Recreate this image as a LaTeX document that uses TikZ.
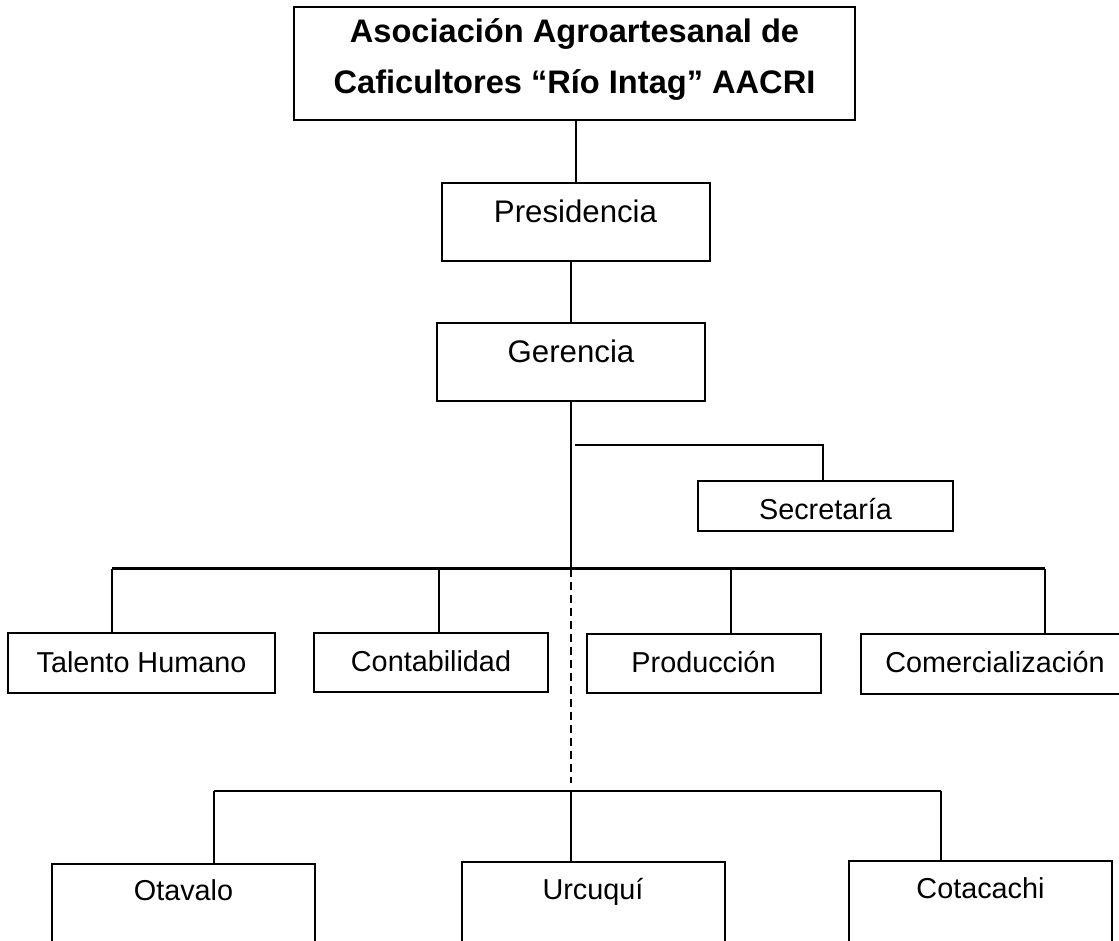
\documentclass[tikz,border=0pt]{standalone}
\usepackage{fontspec}
\setmainfont{Liberation Sans}
\newcommand{\widtharea}{117pt}
\newcommand{\widthsite}{131.5pt}
\tikzset{
    common/.style={draw, rectangle, line width=1pt, inner sep=0pt},
    head/.style={common, font=\fontsize{16.3}{25.8}\selectfont\bfseries, align=center, minimum width=280.5pt, minimum height=56.5pt},
    office/.style={common, font=\fontsize{15.6}{18}\selectfont, text height=11.2pt, text depth=10.2pt, minimum width=134pt, minimum height=39pt},
    area/.style={common, font=\fontsize{14.4}{17}\selectfont, text height=10.3pt, text depth=1.2pt, minimum width=\widtharea, minimum height=29.8pt},
    site/.style={common, anchor=north, font=\fontsize{14.4}{17}\selectfont, text height=18.5pt, text depth=30pt, minimum width=\widthsite},
    link/.style={line width=1pt},
    bus/.style={line width=1.3pt},
    dotted link/.style={link, dash pattern=on 4pt off 2.5pt}
}
\begin{document}
\begin{tikzpicture}[x=0.5pt, y=-0.5pt]
    \useasboundingbox (0,0) rectangle (1119,941);
    \clip (0,0) rectangle (1119,941);

    \node[head] (asoc) at (574.5,63.5) {Asociación Agroartesanal de\\Caficultores “Río Intag” AACRI\rule[-7.5pt]{0pt}{0pt}};
    \node[office] (pres) at (575.5,222) {Presidencia};
    \node[office] (ger) at (571,362) {Gerencia};
    \node[area, text height=13.4pt, text depth=0pt, minimum width=127.8pt, minimum height=25.2pt] (secr) at (825.5,506) {Secretaría};

    \node[area, minimum width=133.5pt] (tal) at (141.5,663) {Talento Humano};
    \node[area] (cont) at (431,662.5) {Contabilidad};
    \node[area] (prod) at (703.5,663.4) {Producción};
    \node[area, minimum width=134pt] (com) at (995,663.7) {Comercialización};

    \node[site] (ota) at (183.5,862.7) {Otavalo};
    \node[site] (urc) at (593,861) {Urcuquí};
    \node[site] (cot) at (980.5,860) {Cotacachi};

    \coordinate (split) at (571,568.5);
    \coordinate (secrJoin) at (575,444.7);
    \coordinate (secrDrop) at (822.7,444.7);
    \coordinate (talDrop) at (112,568.5);
    \coordinate (contDrop) at (438.6,568.5);
    \coordinate (prodDrop) at (730.7,568.5);
    \coordinate (comDrop) at (1045,568.5);
    \coordinate (siteTop) at (571,782.7);
    \coordinate (otaDrop) at (214,791);
    \coordinate (urcDrop) at (571,791);
    \coordinate (cotDrop) at (941,791);

    \draw[link] (pres.north) -- (pres.north |- asoc.south);
    \draw[link] (ger.north) -- (ger.north |- pres.south);
    \draw[link] (ger.south) -- (split);
    \draw[link] (secrJoin) -- (secrDrop) -- (secrDrop |- secr.north);

    \draw[bus] (talDrop) -- (comDrop);
    \foreach \d/\n in {talDrop/tal, contDrop/cont, prodDrop/prod, comDrop/com}
        \draw[link] (\d) -- (\d |- \n.north);

    \draw[dotted link] (split) -- (siteTop);
    \draw[bus] (otaDrop) -- (cotDrop);
    \foreach \d/\n in {otaDrop/ota, urcDrop/urc, cotDrop/cot}
        \draw[link] (\d) -- (\d |- \n.north);
\end{tikzpicture}
\end{document}
